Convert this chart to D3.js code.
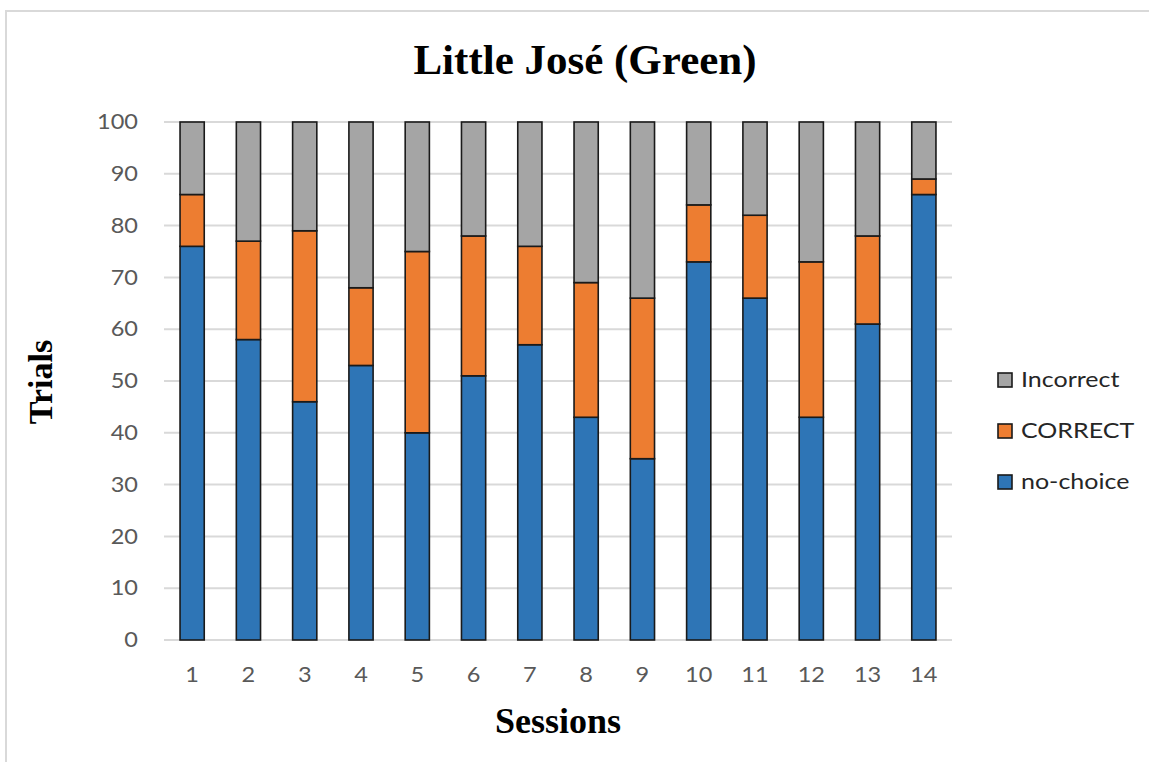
<!DOCTYPE html>
<html>
<head>
<meta charset="utf-8">
<script src="https://cdn.jsdelivr.net/npm/d3@7"></script>
<style>
  html, body { margin: 0; padding: 0; background: #fff; }
  svg { display: block; }
</style>
</head>
<body>
<svg id="chart" width="1149" height="762"></svg>
<script>
// Session trial outcomes (stacked to 100 trials per session)
const sessions = ["1","2","3","4","5","6","7","8","9","10","11","12","13","14"];
const noChoice  = [76, 58, 46, 53, 40, 51, 57, 43, 35, 73, 66, 43, 61, 86];
const correct   = [10, 19, 33, 15, 35, 27, 19, 26, 31, 11, 16, 30, 17, 3];
const incorrect = [14, 23, 21, 32, 25, 22, 24, 31, 34, 16, 18, 27, 22, 11];
const yTicks = [0, 10, 20, 30, 40, 50, 60, 70, 80, 90, 100];
const seriesNames = ["no-choice", "CORRECT", "Incorrect"];
const seriesColors = ["#2E75B6", "#ED7D31", "#A5A5A5"];

const rows = sessions.map((s, i) => ({
  session: s,
  "no-choice": noChoice[i],
  "CORRECT": correct[i],
  "Incorrect": incorrect[i]
}));

const sansFont = "Lato, 'Open Sans', sans-serif";
const serifFont = "'Liberation Serif', 'Times New Roman', serif";

// widen sans text slightly (the chart's sans labels are set wide)
function widen(sel, factor) {
  sel.each(function () {
    const len = this.getComputedTextLength();
    d3.select(this)
      .attr("textLength", len * factor)
      .attr("lengthAdjust", "spacingAndGlyphs");
  });
}

const svg = d3.select("#chart");

// outer frame
svg.append("path")
  .attr("d", "M6,762 L6,11 L1149,11")
  .attr("fill", "none")
  .attr("stroke", "#d9d9d9")
  .attr("stroke-width", 2);

const plot = { left: 164, right: 952, top: 122, bottom: 640 };

const x = d3.scaleBand()
  .domain(sessions)
  .range([plot.left, plot.right])
  .paddingInner(0.57)
  .paddingOuter(0.285);

const y = d3.scaleLinear()
  .domain([0, 100])
  .range([plot.bottom, plot.top]);

// gridlines
svg.append("g")
  .selectAll("line")
  .data(yTicks)
  .join("line")
  .attr("x1", plot.left)
  .attr("x2", plot.right)
  .attr("y1", d => y(d))
  .attr("y2", d => y(d))
  .attr("stroke", "#d9d9d9")
  .attr("stroke-width", 2);

// y axis labels
const yAxis = svg.append("g")
  .attr("transform", `translate(${plot.left},0)`)
  .call(d3.axisLeft(y).tickValues(yTicks).tickSize(0).tickPadding(26));
yAxis.select(".domain").remove();
yAxis.selectAll("text")
  .attr("fill", "#595959")
  .style("font-family", sansFont)
  .style("font-size", "21px")
  .call(widen, 1.12);

// x axis labels
const xAxis = svg.append("g")
  .attr("transform", `translate(0,${plot.bottom})`)
  .call(d3.axisBottom(x).tickSize(0).tickPadding(27));
xAxis.select(".domain").remove();
xAxis.selectAll("text")
  .attr("fill", "#595959")
  .style("font-family", sansFont)
  .style("font-size", "21px")
  .call(widen, 1.12);

// stacked bars
const stacked = d3.stack().keys(seriesNames)(rows);
svg.append("g")
  .selectAll("g")
  .data(stacked)
  .join("g")
  .attr("fill", (d, i) => seriesColors[i])
  .selectAll("rect")
  .data(d => d)
  .join("rect")
  .attr("x", d => x(d.data.session))
  .attr("width", x.bandwidth())
  .attr("y", d => y(d[1]))
  .attr("height", d => y(d[0]) - y(d[1]))
  .attr("stroke", "#1a1a1a")
  .attr("stroke-width", 1.6);

// title
svg.append("text")
  .attr("x", 585)
  .attr("y", 74)
  .attr("text-anchor", "middle")
  .style("font-family", serifFont)
  .style("font-weight", "bold")
  .style("font-size", "43px")
  .attr("fill", "#000")
  .text("Little José (Green)");

// axis titles
svg.append("text")
  .attr("transform", "translate(52,382) rotate(-90)")
  .attr("text-anchor", "middle")
  .style("font-family", serifFont)
  .style("font-weight", "bold")
  .style("font-size", "34px")
  .attr("fill", "#000")
  .text("Trials");

svg.append("text")
  .attr("x", 558)
  .attr("y", 733)
  .attr("text-anchor", "middle")
  .style("font-family", serifFont)
  .style("font-weight", "bold")
  .style("font-size", "36px")
  .attr("fill", "#000")
  .text("Sessions");

// legend (top to bottom: Incorrect, CORRECT, no-choice)
const legendItems = seriesNames.map((n, i) => ({ name: n, color: seriesColors[i] })).reverse();
const legend = svg.append("g")
  .selectAll("g")
  .data(legendItems)
  .join("g")
  .attr("transform", (d, i) => `translate(998,${373 + i * 51})`);
legend.append("rect")
  .attr("width", 14)
  .attr("height", 14)
  .attr("fill", d => d.color)
  .attr("stroke", "#1a1a1a")
  .attr("stroke-width", 1.6);
legend.append("text")
  .attr("x", 23)
  .attr("y", 14)
  .attr("fill", "#262626")
  .style("font-family", sansFont)
  .style("font-size", "21px")
  .text(d => d.name)
  .call(widen, 1.19);
</script>
</body>
</html>
